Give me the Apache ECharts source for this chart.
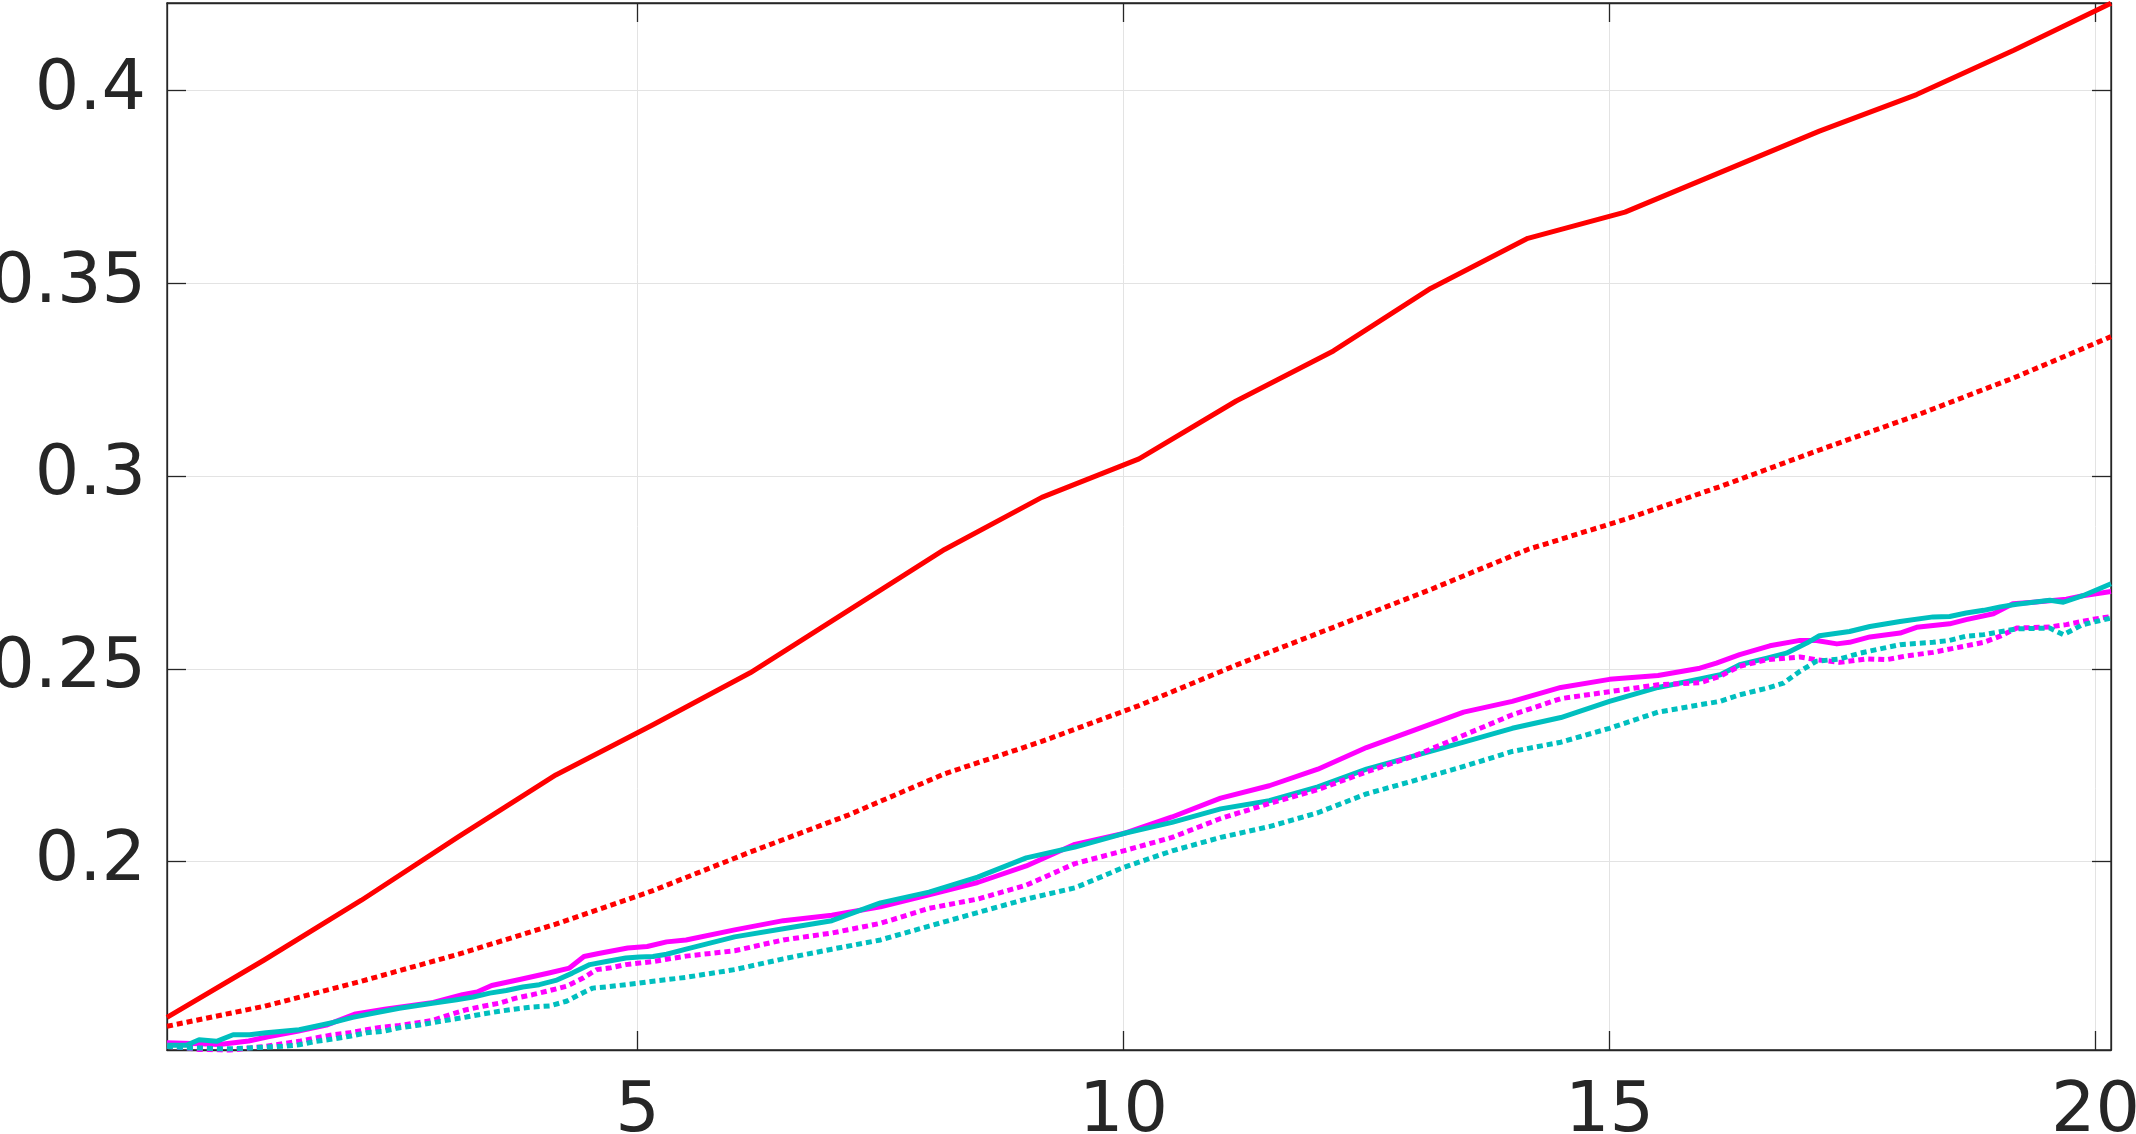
<!DOCTYPE html>
<html>
<head>
<meta charset="utf-8">
<script src="https://cdn.jsdelivr.net/npm/echarts@6/dist/echarts.min.js"></script>
<style>
html,body{margin:0;padding:0;background:#fff;}
#chart{width:2136px;height:1134px;}
</style>
</head>
<body>
<div id="chart"></div>
<script>
// ---- data ----
const xTicks = [5, 10, 15, 20];
const yTicks = [0.2, 0.25, 0.3, 0.35, 0.4];
const yTickLabels = ['0.2', '0.25', '0.3', '0.35', '0.4'];

const xRed = [0.16,1.16,2.16,3.16,4.16,5.16,6.16,7.16,8.16,9.16,10.16,11.16,12.16,13.16,14.16,15.16,16.16,17.16,18.16,19.16,20.16];
const redSolid = [0.1596,0.1745,0.1900,0.2065,0.2225,0.2355,0.2490,0.2650,0.2810,0.2945,0.3045,0.3195,0.3325,0.3487,0.3617,0.3685,0.3790,0.3895,0.3990,0.4105,0.4227];
const redDotted = [0.1573,0.1625,0.1690,0.1760,0.1838,0.1925,0.2025,0.2120,0.2228,0.2312,0.2405,0.2510,0.2608,0.2706,0.2810,0.2888,0.2975,0.3068,0.3158,0.3255,0.3362];

const xMagSolid = [0.16,0.5,0.7,1.0,1.2,1.5,1.8,2.1,2.4,2.9,3.2,3.35,3.5,3.8,4.1,4.3,4.45,4.6,4.9,5.1,5.3,
  5.5,6,6.5,7,7.5,8,8.5,9,9.5,10,10.5,11,11.5,12,12.5,13,13.5,14,14.5,15,15.5,
  15.93,16.10,16.34,16.65,16.96,17.13,17.34,17.47,17.68,17.99,18.16,18.50,18.67,18.95,19.15,19.36,19.53,19.70,19.87,20.16];
const magSolid = [0.1530,0.1528,0.1526,0.1535,0.1546,0.1560,0.1576,0.1605,0.1617,0.1635,0.1655,0.1662,0.1679,0.1695,0.1712,0.1724,0.1754,0.1762,0.1776,0.1780,0.1792,
  0.1797,0.1823,0.1847,0.1861,0.1883,0.1914,0.1946,0.1989,0.2045,0.2073,0.2116,0.2165,0.2197,0.2240,0.2296,0.2342,0.2388,0.2416,0.2452,0.2473,0.2483,
  0.2502,0.2515,0.2537,0.2560,0.2574,0.2574,0.2565,0.2569,0.2583,0.2593,0.2608,0.2617,0.2628,0.2643,0.2669,0.2673,0.2677,0.2681,0.2690,0.2701];

const xCyanSolid = [0.16,0.36,0.49,0.67,0.84,1.01,1.18,1.52,1.69,1.87,2.07,2.28,2.55,2.89,3.14,3.31,3.48,3.65,3.82,3.99,4.16,4.33,4.51,4.68,4.88,5.02,5.16,5.30,
  5.5,6,6.5,7,7.5,8,8.5,9,9.5,10,10.5,11,11.5,12,12.5,13,13.5,14,14.5,15,15.5,
  15.93,16.14,16.34,16.62,16.82,17.03,17.16,17.47,17.68,17.99,18.33,18.50,18.67,18.85,19.02,19.19,19.53,19.67,19.87,20.16];
const cyanSolid = [0.1524,0.1524,0.1538,0.1534,0.1551,0.1551,0.1556,0.1564,0.1573,0.1583,0.1596,0.1607,0.1620,0.1633,0.1642,0.1649,0.1659,0.1666,0.1675,0.1681,0.1692,0.1711,0.1733,0.1741,0.1750,0.1753,0.1754,0.1760,
  0.1773,0.1805,0.1826,0.1847,0.1893,0.1921,0.1960,0.2010,0.2038,0.2073,0.2102,0.2137,0.2158,0.2194,0.2240,0.2275,0.2310,0.2346,0.2374,0.2416,0.2452,
  0.2474,0.2485,0.2511,0.2528,0.2541,0.2567,0.2586,0.2597,0.2610,0.2623,0.2635,0.2636,0.2645,0.2652,0.2661,0.2668,0.2678,0.2673,0.2690,0.2721];

const xMagDotted = [0.16,0.36,0.49,0.67,0.80,1.01,1.18,1.35,1.52,1.69,1.87,2.04,2.21,2.35,2.55,2.76,2.89,3.07,3.24,3.41,3.58,3.75,3.92,4.10,4.27,4.44,4.58,4.71,4.88,5.02,5.16,5.30,
  5.5,6,6.5,7,7.5,8,8.5,9,9.5,10,10.5,11,11.5,12,12.5,13,13.5,14,14.5,15,15.5,
  15.93,16.14,16.34,16.62,16.96,17.13,17.37,17.65,17.85,18.06,18.33,18.61,18.85,19.02,19.19,19.53,19.70,19.98,20.16];
const magDotted = [0.1521,0.1517,0.1513,0.1512,0.1510,0.1517,0.1521,0.1528,0.1534,0.1543,0.1551,0.1556,0.1564,0.1570,0.1575,0.1583,0.1588,0.1603,0.1616,0.1625,0.1633,0.1646,0.1655,0.1666,0.1677,0.1698,0.1720,0.1724,0.1733,0.1737,0.1741,0.1747,
  0.1755,0.1769,0.1797,0.1815,0.1840,0.1879,0.1903,0.1939,0.1995,0.2028,0.2063,0.2112,0.2151,0.2187,0.2233,0.2275,0.2328,0.2381,0.2423,0.2441,0.2459,
  0.2464,0.2481,0.2507,0.2524,0.2531,0.2524,0.2517,0.2526,0.2524,0.2534,0.2543,0.2557,0.2569,0.2585,0.2606,0.2609,0.2615,0.2629,0.2636];

const xCyanDotted = [0.16,0.36,0.49,0.67,0.84,1.01,1.18,1.35,1.52,1.69,1.87,2.04,2.21,2.38,2.55,2.72,2.89,3.07,3.24,3.41,3.58,3.75,3.92,4.10,4.27,4.44,4.54,4.68,4.88,5.02,5.16,5.30,
  5.5,6,6.5,7,7.5,8,8.5,9,9.5,10,10.5,11,11.5,12,12.5,13,13.5,14,14.5,15,15.5,
  15.93,16.14,16.34,16.62,16.79,16.96,17.13,17.37,17.58,17.82,17.99,18.33,18.50,18.67,18.85,19.19,19.53,19.67,19.87,20.16];
const cyanDotted = [0.1521,0.1517,0.1517,0.1515,0.1515,0.1517,0.1519,0.1521,0.1525,0.1534,0.1540,0.1547,0.1556,0.1560,0.1569,0.1575,0.1582,0.1590,0.1597,0.1605,0.1612,0.1618,0.1623,0.1626,0.1638,0.1660,0.1672,0.1675,0.1681,0.1685,0.1690,0.1694,
  0.1700,0.1720,0.1748,0.1773,0.1797,0.1833,0.1868,0.1903,0.1932,0.1985,0.2028,0.2063,0.2091,0.2127,0.2176,0.2211,0.2247,0.2286,0.2310,0.2346,0.2388,
  0.2407,0.2416,0.2433,0.2450,0.2463,0.2494,0.2520,0.2526,0.2541,0.2554,0.2563,0.2569,0.2574,0.2585,0.2589,0.2604,0.2606,0.2589,0.2615,0.2632];

const X_MIN = 0.16, X_MAX = 20.16;
const Y_MIN = 0.15115, Y_MAX = 0.42275;

// ---- chart ----
function pairs(xs, ys) { return xs.map((x, i) => [x, ys[i]]); }

const AX = '#262626';
const GRIDC = '#e3e3e3';
const FONT = 'DejaVu Sans';

const chart = echarts.init(document.getElementById('chart'), null, {renderer: 'canvas'});

function lineSeries(name, xs, ys, color, dotted, z) {
  return {
    name, type: 'line', xAxisIndex: 0, yAxisIndex: 0,
    data: pairs(xs, ys), showSymbol: false, symbol: 'none', clip: true,
    z: z,
    lineStyle: {color, width: 5, type: dotted ? [6, 4] : 'solid', cap: 'butt', join: 'round'},
    animation: false
  };
}

chart.setOption({
  animation: false,
  backgroundColor: '#ffffff',
  grid: {left: 167, right: 25, top: 3, bottom: 84, containLabel: false, outerBoundsMode: 'none',
         show: true, borderColor: AX, borderWidth: 1.3, backgroundColor: 'transparent'},
  xAxis: [{
    type: 'value', min: X_MIN, max: X_MAX, position: 'bottom',
    axisLine: {show: true, onZero: false, lineStyle: {color: AX, width: 1.3}},
    axisTick: {show: true, inside: true, length: 19, customValues: xTicks, lineStyle: {color: AX, width: 1.3}},
    axisLabel: {show: true, customValues: xTicks, margin: 28, color: AX, fontFamily: FONT, fontSize: 70,
                formatter: v => String(v), hideOverlap: false},
    splitLine: {show: true, lineStyle: {color: GRIDC, width: 1}},
    minorTick: {show: false}
  }, {
    type: 'value', min: X_MIN, max: X_MAX, position: 'top',
    axisLine: {show: true, onZero: false, lineStyle: {color: AX, width: 1.3}},
    axisTick: {show: true, inside: true, length: 19, customValues: xTicks, lineStyle: {color: AX, width: 1.3}},
    axisLabel: {show: false},
    splitLine: {show: false}
  }],
  yAxis: [{
    type: 'value', min: Y_MIN, max: Y_MAX, position: 'left',
    axisLine: {show: true, onZero: false, lineStyle: {color: AX, width: 1.3}},
    axisTick: {show: true, inside: true, length: 19, customValues: yTicks, lineStyle: {color: AX, width: 1.3}},
    axisLabel: {show: true, customValues: yTicks, margin: 21, color: AX, fontFamily: FONT, fontSize: 70,
                formatter: v => yTickLabels[yTicks.findIndex(t => Math.abs(t - v) < 1e-9)] ?? String(v), hideOverlap: false},
    splitLine: {show: true, lineStyle: {color: GRIDC, width: 1}}
  }, {
    type: 'value', min: Y_MIN, max: Y_MAX, position: 'right',
    axisLine: {show: true, onZero: false, lineStyle: {color: AX, width: 1.3}},
    axisTick: {show: true, inside: true, length: 19, customValues: yTicks, lineStyle: {color: AX, width: 1.3}},
    axisLabel: {show: false},
    splitLine: {show: false}
  }],
  series: [
    lineSeries('red', xRed, redSolid, '#ff0000', false, 3),
    lineSeries('red dotted', xRed, redDotted, '#ff0000', true, 3),
    lineSeries('magenta', xMagSolid, magSolid, '#ff00ff', false, 4),
    lineSeries('cyan', xCyanSolid, cyanSolid, '#00bfbf', false, 5),
    lineSeries('magenta dotted', xMagDotted, magDotted, '#ff00ff', true, 6),
    lineSeries('cyan dotted', xCyanDotted, cyanDotted, '#00bfbf', true, 7)
  ]
});
</script>
</body>
</html>
